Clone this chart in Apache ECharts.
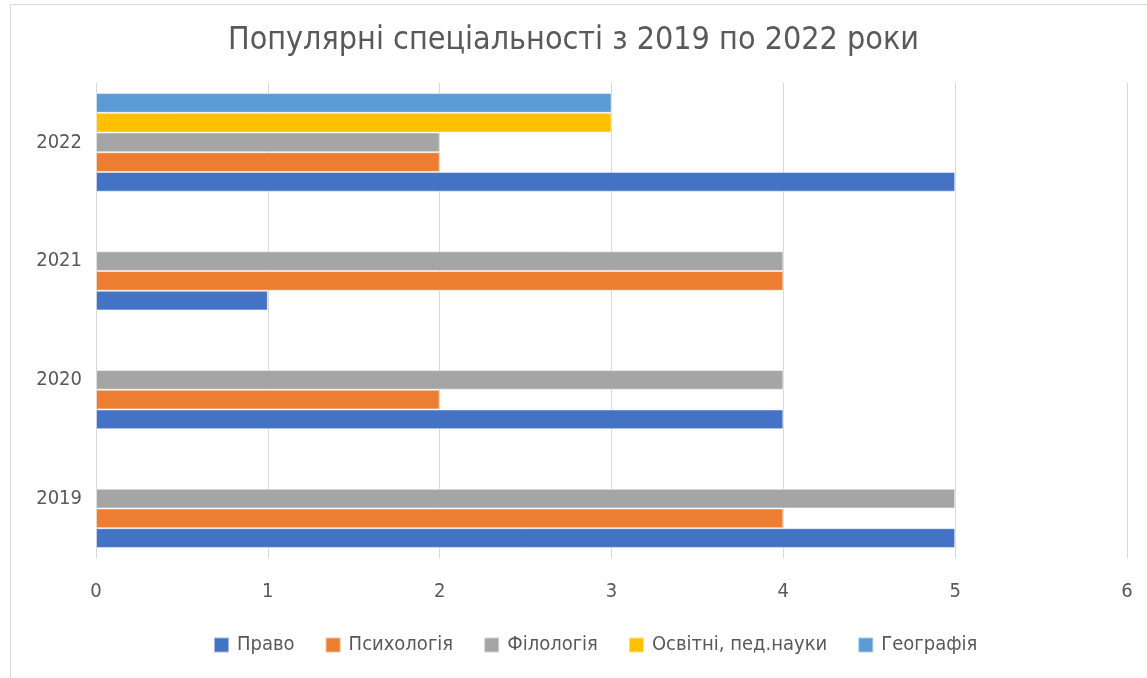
<!DOCTYPE html>
<html>
<head>
    <meta charset="utf-8">
    <title>Популярні спеціальності</title>
    <script src="https://cdn.jsdelivr.net/npm/echarts@6/dist/echarts.min.js"></script>
    <style>
        body, html { margin: 0; padding: 0; width: 100%; height: 100%; overflow: hidden; background: #fff; }
        #main { width: 1147px; height: 678px; }
    </style>
</head>
<body>
    <div id="main"></div>
    <script type="text/javascript">
        // categories (bottom to top)
        var years = ['2019', '2020', '2021', '2022'];
        var xTicks = [0, 1, 2, 3, 4, 5, 6];

        // series values per year
        var pravo     = [5, 4, 1, 5];
        var psykholoh = [4, 2, 4, 2];
        var filoloh   = [5, 4, 4, 2];
        var osvitni   = [null, null, null, 3];
        var heohraf   = [null, null, null, 3];

        var seriesNames = ['Право', 'Психологія', 'Філологія', 'Освітні, пед.науки', 'Географія'];
        var seriesData = [pravo, psykholoh, filoloh, osvitni, heohraf];
        var colors = ['#4472C4', '#ED7D31', '#A5A5A5', '#FFC000', '#5B9BD5'];

        var font = '"Liberation Sans Narrow", "DejaVu Sans Condensed", "Open Sans", sans-serif';

        var myChart = echarts.init(document.getElementById('main'));

        // bars stack top-down in series order, so add them in reverse
        // (Право ends up at the bottom of each year, like Excel)
        var series = seriesNames.map(function (name, i) {
            return {
                name: name,
                type: 'bar',
                data: seriesData[i],
                itemStyle: { color: colors[i], borderColor: 'rgba(255,255,255,0.5)', borderWidth: 1 },
                barGap: '0%',
                barCategoryGap: '17%'
            };
        }).reverse();

        var option = {
            animation: false,
            graphic: [{
                type: 'rect',
                left: 8, top: 2,
                shape: { width: 1138, height: 674 },
                style: { fill: 'none', stroke: '#d9d9d9', lineWidth: 1 }
            }],
            title: {
                text: 'Популярні спеціальності з 2019 по 2022 роки',
                left: 'center',
                top: 20,
                padding: [5, 0, 5, 20],
                textStyle: { fontFamily: font, fontSize: 32, fontWeight: 'normal', color: '#595959' }
            },
            legend: {
                data: seriesNames,
                bottom: 18,
                left: 208,
                itemWidth: 15,
                itemHeight: 15,
                itemGap: 30,
                icon: 'rect',
                textStyle: { fontFamily: font, fontSize: 20, color: '#595959', padding: [0, 0, 0, 3] }
            },
            grid: { left: 96, right: 20, top: 83, bottom: 120, containLabel: false },
            xAxis: {
                type: 'value',
                min: xTicks[0],
                max: xTicks[xTicks.length - 1],
                interval: 1,
                axisLine: { show: false },
                axisTick: { show: false },
                splitLine: { lineStyle: { color: '#d9d9d9', width: 1 } },
                axisLabel: { fontFamily: font, fontSize: 20, color: '#595959', margin: 24 }
            },
            yAxis: {
                type: 'category',
                data: years,
                axisLine: { show: false },
                axisTick: { show: false },
                axisLabel: { fontFamily: font, fontSize: 20, color: '#595959', margin: 14 }
            },
            series: series
        };

        myChart.setOption(option);
    </script>
</body>
</html>
